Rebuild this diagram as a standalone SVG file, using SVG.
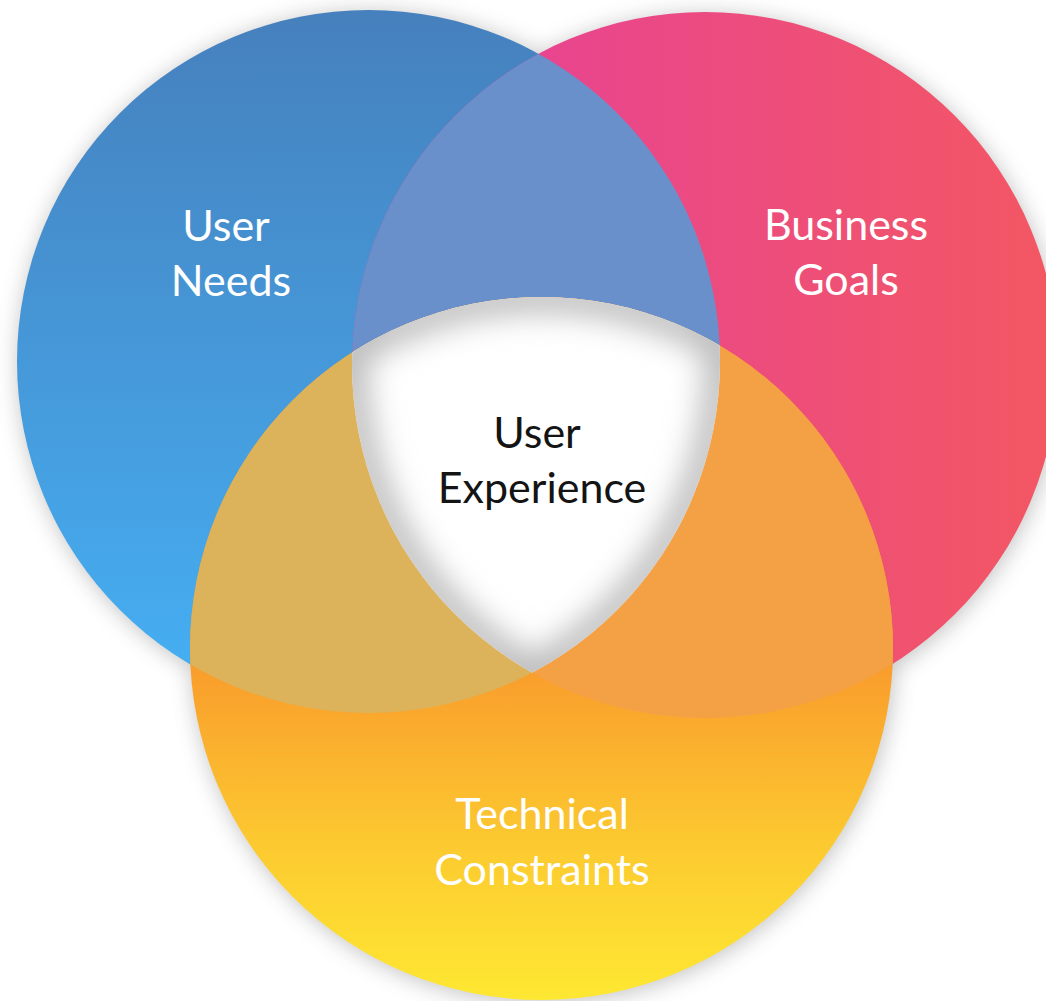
<svg xmlns="http://www.w3.org/2000/svg" width="1046" height="1001" viewBox="0 0 1046 1001">
  <style>
    .label { font-family: Lato, "Open Sans", "Liberation Sans", sans-serif; font-size: 43px; text-anchor: middle; }
    .light { fill: #ffffff; }
    .dark { fill: #141414; }
    .ring { fill: none; stroke: #bdbdbd; stroke-width: 32; }
  </style>
  <defs>
    <linearGradient id="gBlue" gradientUnits="userSpaceOnUse" x1="0" y1="10" x2="0" y2="713">
      <stop offset="0" stop-color="#4680bd"/>
      <stop offset="1" stop-color="#45b1f5"/>
    </linearGradient>
    <linearGradient id="gPink" gradientUnits="userSpaceOnUse" x1="540" y1="0" x2="1046" y2="0">
      <stop offset="0" stop-color="#e8458f"/>
      <stop offset="1" stop-color="#f35763"/>
    </linearGradient>
    <linearGradient id="gOrange" gradientUnits="userSpaceOnUse" x1="0" y1="660" x2="0" y2="1000">
      <stop offset="0" stop-color="#f99b2c"/>
      <stop offset="0.55" stop-color="#fcca30"/>
      <stop offset="1" stop-color="#fee832"/>
    </linearGradient>
    <clipPath id="cBlue"><circle cx="368.5" cy="361.5" r="351.5"/></clipPath>
    <clipPath id="cPink"><circle cx="705" cy="365" r="353"/></clipPath>
    <clipPath id="cOrange"><circle cx="541.5" cy="648.5" r="351.5"/></clipPath>
    <filter id="fShadow" x="-10%" y="-10%" width="120%" height="120%">
      <feGaussianBlur stdDeviation="11"/>
    </filter>
    <filter id="fInner" x="-10%" y="-10%" width="120%" height="120%">
      <feGaussianBlur stdDeviation="15"/>
    </filter>
  </defs>

  <rect width="1046" height="1001" fill="#ffffff"/>

  <!-- soft shadow under the three sets -->
  <g fill="#7a7a7a" opacity="0.45" filter="url(#fShadow)">
    <circle cx="370" cy="364" r="352"/>
    <circle cx="706" cy="368" r="353.5"/>
    <circle cx="543" cy="651" r="352"/>
  </g>

  <!-- the three sets -->
  <g id="node-user-needs">
    <circle cx="368.5" cy="361.5" r="351.5" fill="url(#gBlue)"/>
  </g>
  <g id="node-business-goals">
    <circle cx="705" cy="365" r="353" fill="url(#gPink)"/>
  </g>
  <g id="node-technical-constraints">
    <circle cx="541.5" cy="648.5" r="351.5" fill="url(#gOrange)"/>
  </g>

  <!-- pairwise overlaps -->
  <g id="overlaps">
    <g clip-path="url(#cBlue)"><circle cx="705" cy="365" r="353" fill="#6a90cc"/></g>
    <g clip-path="url(#cBlue)"><circle cx="541.5" cy="648.5" r="351.5" fill="#dcb35b"/></g>
    <g clip-path="url(#cPink)"><circle cx="541.5" cy="648.5" r="351.5" fill="#f4a146"/></g>
  </g>

  <!-- centre: intersection of all three, with an inner shade -->
  <g id="node-user-experience">
    <g clip-path="url(#cBlue)">
      <g clip-path="url(#cPink)">
        <g clip-path="url(#cOrange)">
          <rect x="330" y="280" width="410" height="410" fill="#ffffff"/>
          <g filter="url(#fInner)">
            <circle class="ring" cx="368.5" cy="361.5" r="351.5"/>
            <circle class="ring" cx="705" cy="365" r="353"/>
            <circle class="ring" cx="541.5" cy="648.5" r="351.5"/>
          </g>
        </g>
      </g>
    </g>
  </g>

  <!-- labels -->
  <g id="labels">
    <text class="label light" x="226" y="241">User</text>
    <text class="label light" x="231" y="296">Needs</text>
    <text class="label light" x="846" y="240">Business</text>
    <text class="label light" x="846" y="295">Goals</text>
    <text class="label dark" x="537" y="448">User</text>
    <text class="label dark" x="542" y="503">Experience</text>
    <text class="label light" x="542" y="829">Technical</text>
    <text class="label light" x="542" y="885">Constraints</text>
  </g>
</svg>
